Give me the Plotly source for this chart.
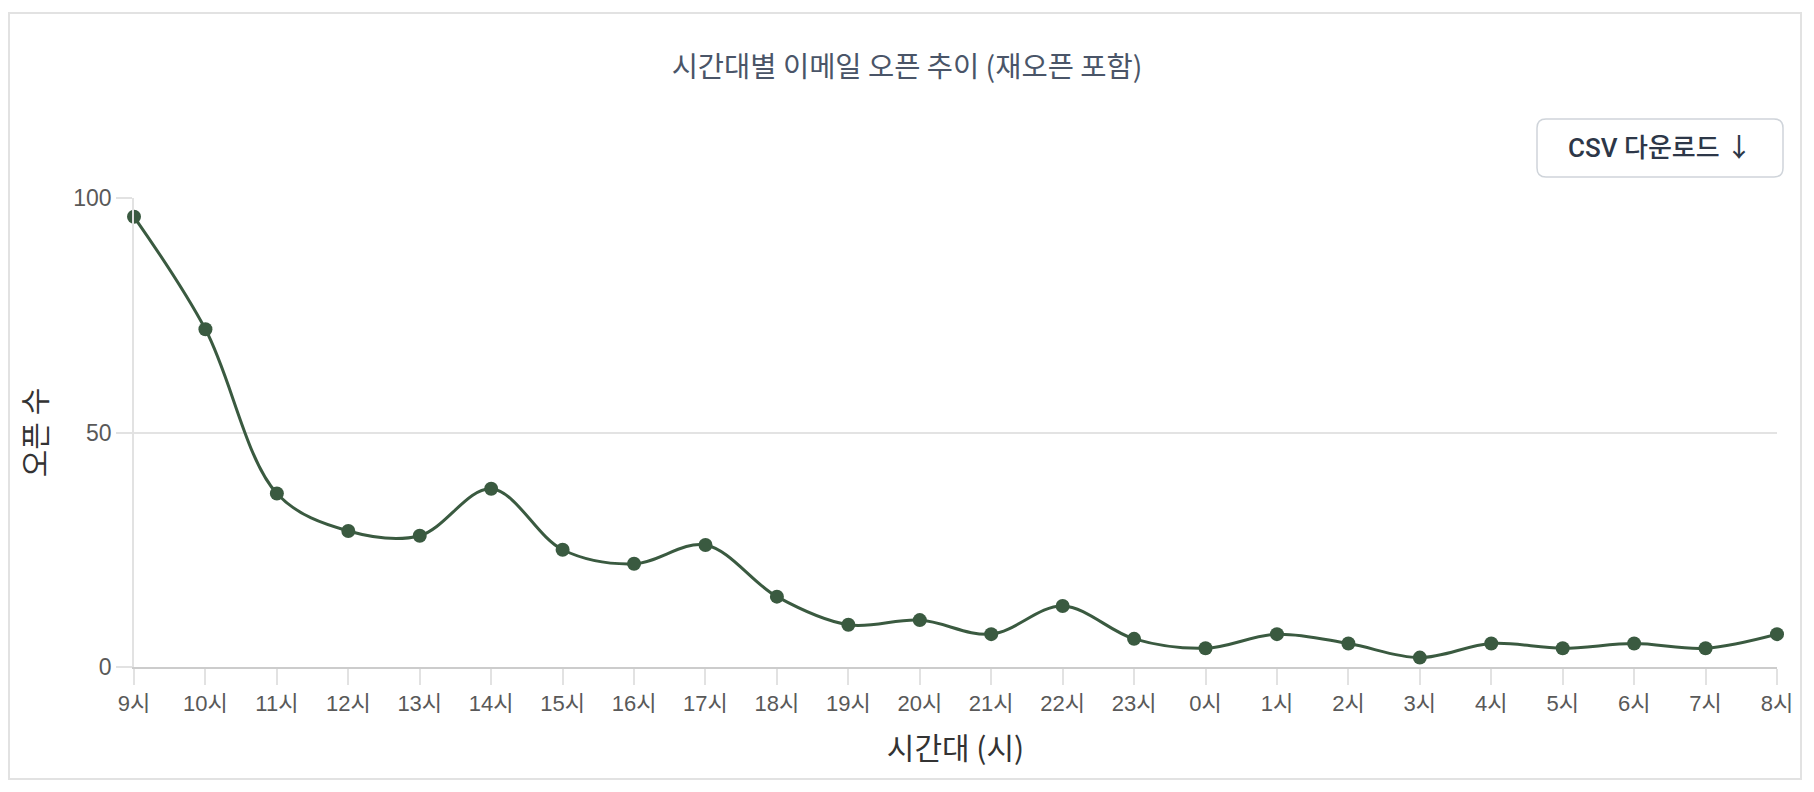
import plotly.graph_objects as go

hours = ["9시", "10시", "11시", "12시", "13시", "14시", "15시", "16시", "17시", "18시",
         "19시", "20시", "21시", "22시", "23시", "0시", "1시", "2시", "3시", "4시",
         "5시", "6시", "7시", "8시"]
opens = [96, 72, 37, 29, 28, 38, 25, 22, 26, 15, 9, 10, 7, 13, 6, 4, 7, 5, 2, 5, 4, 5, 4, 7]
y_ticks = [0, 50, 100]

W, H = 1814, 792
L, R, T, B = 134, 37, 198, 125
PW, PH = W - L - R, H - T - B


def px_x(px):
    return (px - L) / PW


def px_y(py):
    return (H - B - py) / PH


def round_rect(x0, y0, x1, y1, r):
    X = px_x
    Y = px_y
    return (
        f"M {X(x0 + r)},{Y(y0)} L {X(x1 - r)},{Y(y0)} "
        f"Q {X(x1)},{Y(y0)} {X(x1)},{Y(y0 + r)} L {X(x1)},{Y(y1 - r)} "
        f"Q {X(x1)},{Y(y1)} {X(x1 - r)},{Y(y1)} L {X(x0 + r)},{Y(y1)} "
        f"Q {X(x0)},{Y(y1)} {X(x0)},{Y(y1 - r)} L {X(x0)},{Y(y0 + r)} "
        f"Q {X(x0)},{Y(y0)} {X(x0 + r)},{Y(y0)} Z"
    )


FONT = "Liberation Sans, Noto Sans CJK KR, sans-serif"
KFONT = "Noto Sans CJK KR, sans-serif"
LINE = "#3a5a40"

fig = go.Figure()
fig.add_trace(go.Scatter(
    x=hours, y=opens, mode="lines+markers",
    line=dict(color=LINE, width=3, shape="spline", smoothing=1.0),
    marker=dict(color=LINE, size=14),
    cliponaxis=False,
    hovertemplate="%{x}: %{y}<extra></extra>",
))

fig.update_layout(
    width=W, height=H,
    margin=dict(l=L, r=R, t=T, b=B),
    paper_bgcolor="white", plot_bgcolor="white",
    showlegend=False,
    title=dict(text="시간대별 이메일 오픈 추이 (재오픈 포함)",
               x=0.5, xref="container", xanchor="center",
               y=1 - 67 / H, yref="container", yanchor="middle",
               font=dict(family=KFONT, size=28.5, color="#4a5568")),
    xaxis=dict(
        type="category", range=[0, len(hours) - 1],
        showgrid=False, zeroline=False,
        showline=True, linecolor="#cccccc", linewidth=2,
        ticks="outside", ticklen=16, tickcolor="#e2e2e2", tickwidth=1.5,
        tickfont=dict(family=FONT, size=22, color="#595959"),
        title=dict(text="시간대 (시)", standoff=23,
                   font=dict(family=KFONT, size=30, color="#333333")),
    ),
    yaxis=dict(
        range=[0, 100], tickvals=y_ticks,
        showgrid=True, gridcolor="#e3e3e3", gridwidth=1.5, zeroline=False,
        showline=True, linecolor="#e2e2e2", linewidth=1.5,
        ticks="outside", ticklen=16, tickcolor="#e2e2e2", tickwidth=1.5,
        tickfont=dict(family=FONT, size=23, color="#595959"),
        title=dict(text="오픈 수", standoff=18,
                   font=dict(family=KFONT, size=30, color="#333333")),
    ),
    shapes=[
        dict(type="rect", xref="paper", yref="paper",
             x0=px_x(9), x1=px_x(1801), y0=px_y(779), y1=px_y(13),
             line=dict(color="#e2e2e2", width=2), fillcolor="rgba(0,0,0,0)",
             layer="below"),
        dict(type="path", xref="paper", yref="paper",
             path=round_rect(1537, 119, 1783, 177, 9),
             line=dict(color="#cfd4da", width=1.5), fillcolor="white"),
    ],
    annotations=[
        dict(text="CSV 다운로드 ↓", xref="paper", yref="paper",
             x=px_x(1660), y=px_y(148), xanchor="center", yanchor="middle",
             showarrow=False,
             font=dict(family="Roboto, Noto Sans CJK KR, sans-serif", size=26,
                       color="#2d3748", weight=500)),
    ],
)

fig.write_html("out.html",
               config={"displayModeBar": False},
               post_script="document.body.style.margin='0';document.body.style.padding='0';")
